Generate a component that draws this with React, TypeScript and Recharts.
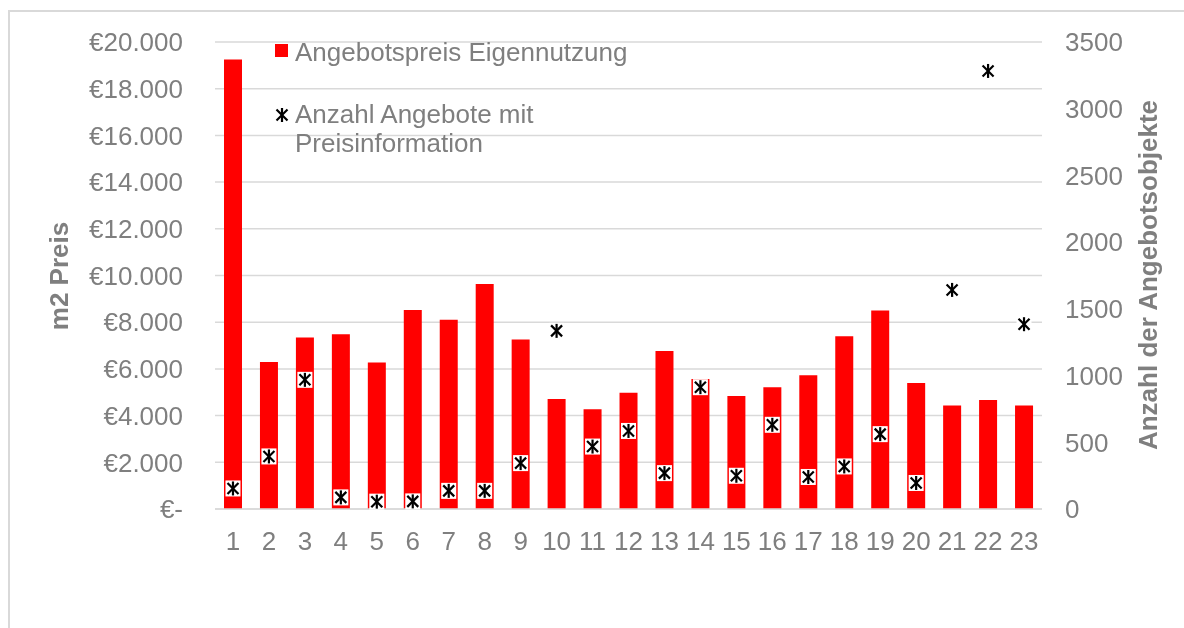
import React from 'react';
import { ComposedChart, Bar, Scatter, XAxis, YAxis, CartesianGrid, Legend } from 'recharts';

const categories = ['1','2','3','4','5','6','7','8','9','10','11','12','13','14','15','16','17','18','19','20','21','22','23'];
const prices = [19250, 6300, 7350, 7480, 6270, 8520, 8100, 9640, 7260, 4710, 4270, 4980, 6770, 5570, 4840, 5210, 5730, 7400, 8500, 5400, 4430, 4670, 4430];
const counts = [154, 394, 968, 87, 55, 57, 136, 136, 344, 1335, 468, 585, 269, 913, 249, 631, 240, 319, 561, 195, 1642, 3283, 1385];
const leftTicks = [0, 2000, 4000, 6000, 8000, 10000, 12000, 14000, 16000, 18000, 20000];
const rightTicks = [0, 500, 1000, 1500, 2000, 2500, 3000, 3500];
const seriesNames = ['Angebotspreis Eigennutzung', 'Anzahl Angebote mit Preisinformation'];
const axisTitles = ['m2 Preis', 'Anzahl der Angebotsobjekte'];

const data = categories.map((c, i) => ({ cat: c, price: prices[i], count: counts[i] }));

const FONT = '"Liberation Sans", Arial, Helvetica, sans-serif';
const GRAY = '#7f7f7f';
const GRID = '#d9d9d9';
const FS = 26;

const formatEuro = (v: number) => {
  if (v === 0) return '€-';
  return '€' + v.toString().replace(/\B(?=(\d{3})+(?!\d))/g, '.');
};

const Asterisk = ({ cx, cy, box }: { cx: number; cy: number; box?: boolean }) => (
  <g>
    {box && <rect x={cx - 7.5} y={cy - 8} width={15} height={16} fill="#ffffff" />}
    <line x1={cx} y1={cy - 7} x2={cx} y2={cy + 7} stroke="#000" strokeWidth={2.2} />
    <line x1={cx - 5.5} y1={cy - 5.5} x2={cx + 5.5} y2={cy + 5.5} stroke="#000" strokeWidth={2.2} />
    <line x1={cx + 5.5} y1={cy - 5.5} x2={cx - 5.5} y2={cy + 5.5} stroke="#000" strokeWidth={2.2} />
  </g>
);

const StarShape = (props: any) => {
  const { cx, cy } = props;
  if (cx == null || cy == null) return null;
  return <Asterisk cx={cx} cy={cy} box />;
};

const renderLegend = () => (
  <div style={{ fontFamily: FONT, fontSize: FS, color: GRAY, lineHeight: '29px', width: 370 }}>
    <div style={{ display: 'flex', alignItems: 'flex-start' }}>
      <div style={{ width: 13, height: 13, background: '#ff0000', marginTop: 6, marginRight: 7, flex: 'none' }} />
      <div style={{ whiteSpace: 'nowrap' }}>{seriesNames[0]}</div>
    </div>
    <div style={{ display: 'flex', alignItems: 'flex-start', marginTop: 33 }}>
      <svg width={14} height={16} style={{ marginTop: 7, marginRight: 6, flex: 'none' }}>
        <Asterisk cx={7} cy={8} />
      </svg>
      <div style={{ width: 345 }}>{seriesNames[1]}</div>
    </div>
  </div>
);

export default function App() {
  return (
    <div style={{ position: 'relative', width: 1168, height: 612, fontFamily: FONT }}>
      <div style={{ position: 'fixed', left: 8, top: 10, right: 0, bottom: 0, borderLeft: `2px solid ${GRID}`, borderTop: `2px solid ${GRID}`, boxSizing: 'border-box', pointerEvents: 'none' }} />
      <div style={{ position: 'absolute', left: 0, top: 0 }}>
        <ComposedChart width={1168} height={612} data={data} margin={{ top: 34, right: 54, left: 77, bottom: 80 }}>
          <CartesianGrid yAxisId="left" vertical={false} stroke={GRID} strokeWidth={1.5} />
          <XAxis
            dataKey="cat"
            height={31}
            tickLine={false}
            axisLine={{ stroke: GRID, strokeWidth: 1.5 }}
            tick={{ fill: GRAY, fontSize: FS, fontFamily: FONT }}
            tickMargin={17}
            interval={0}
          />
          <YAxis
            yAxisId="left"
            orientation="left"
            width={130}
            domain={[0, 20000]}
            ticks={leftTicks}
            tickFormatter={formatEuro}
            tickLine={false}
            axisLine={false}
            tick={{ fill: GRAY, fontSize: FS, fontFamily: FONT }}
            tickMargin={26}
            interval={0}
          />
          <YAxis
            yAxisId="right"
            orientation="right"
            width={80}
            domain={[0, 3500]}
            ticks={rightTicks}
            tickLine={false}
            axisLine={false}
            tick={{ fill: GRAY, fontSize: FS, fontFamily: FONT }}
            tickMargin={17}
            interval={0}
          />
          <Legend
            layout="vertical"
            align="center"
            verticalAlign="middle"
            content={renderLegend}
            wrapperStyle={{ position: 'absolute', left: 267, top: 29.5, width: 380 }}
          />
          <Bar yAxisId="left" dataKey="price" name={seriesNames[0]} fill="#ff0000" barSize={18} isAnimationActive={false} />
          <Scatter yAxisId="right" dataKey="count" name={seriesNames[1]} shape={StarShape} isAnimationActive={false} />
        </ComposedChart>
      </div>
      <div style={{ position: 'absolute', left: 51, top: 268, transform: 'translate(-50%, -50%) rotate(-90deg)', whiteSpace: 'nowrap', fontWeight: 'bold', fontSize: FS, color: GRAY }}>
        {axisTitles[0]}
      </div>
      <div style={{ position: 'absolute', left: 1140, top: 267, transform: 'translate(-50%, -50%) rotate(-90deg)', whiteSpace: 'nowrap', fontWeight: 'bold', fontSize: FS, color: GRAY }}>
        {axisTitles[1]}
      </div>
    </div>
  );
}
